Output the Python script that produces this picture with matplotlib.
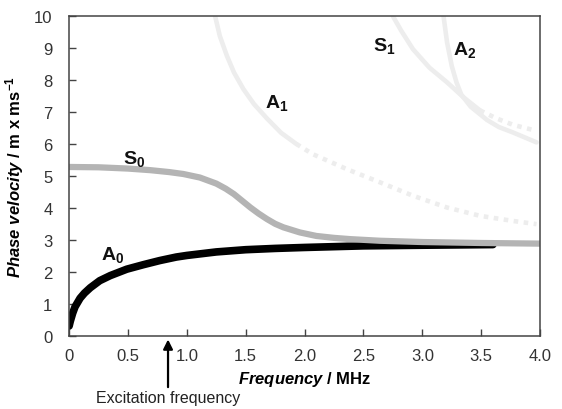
import matplotlib
matplotlib.use("Agg")

import matplotlib.pyplot as plt

# dispersion curves (frequency in MHz, phase velocity)
A0_FREQ = [0, 0.01, 0.03, 0.05, 0.093, 0.13, 0.18, 0.26, 0.35, 0.49, 0.63, 0.77,
           0.91, 1.0, 1.25, 1.5, 1.75, 2.0, 2.5, 3.0, 3.6]
A0_VEL = [0.3, 0.45, 0.7, 0.9, 1.17, 1.33, 1.5, 1.72, 1.88, 2.08, 2.22, 2.35,
          2.46, 2.51, 2.62, 2.69, 2.73, 2.76, 2.81, 2.83, 2.85]

S0_FREQ = [0, 0.25, 0.5, 0.69, 0.85, 0.97, 1.11, 1.25, 1.33, 1.40, 1.47, 1.54,
           1.61, 1.68, 1.75, 1.82, 1.96, 2.10, 2.25, 2.39, 2.64, 3.0, 3.5, 4.0]
S0_VEL = [5.28, 5.27, 5.23, 5.18, 5.12, 5.06, 4.95, 4.76, 4.6, 4.43, 4.22, 4.01,
          3.82, 3.65, 3.5, 3.39, 3.23, 3.12, 3.06, 3.02, 2.97, 2.93, 2.9, 2.88]

A1_FREQ = [1.24, 1.28, 1.34, 1.40, 1.48, 1.57, 1.68, 1.80, 1.93]
A1_VEL = [10.0, 9.38, 8.76, 8.24, 7.72, 7.25, 6.8, 6.35, 6.0]
A1_FREQ_DOT = [1.93, 2.07, 2.36, 2.64, 2.92, 3.21, 3.49, 3.77, 3.97]
A1_VEL_DOT = [6.0, 5.68, 5.21, 4.8, 4.38, 4.01, 3.75, 3.59, 3.49]

S1_FREQ = [2.75, 2.82, 2.92, 3.06, 3.21, 3.35, 3.49]
S1_VEL = [10.0, 9.55, 8.97, 8.39, 7.93, 7.46, 7.05]
S1_FREQ_DOT = [3.49, 3.63, 3.77, 3.97]
S1_VEL_DOT = [7.05, 6.8, 6.6, 6.41]

A2_FREQ = [3.18, 3.21, 3.25, 3.29, 3.33, 3.41, 3.55, 3.65, 3.77, 3.97]
A2_VEL = [10.0, 9.18, 8.44, 7.93, 7.55, 7.17, 6.75, 6.53, 6.36, 6.05]

MODE_LABELS = [r"$\mathrm{A}_{0}$", r"$\mathrm{S}_{0}$", r"$\mathrm{A}_{1}$",
               r"$\mathrm{S}_{1}$", r"$\mathrm{A}_{2}$"]
LABEL_FREQ = [0.37, 0.55, 1.76, 2.68, 3.36]
LABEL_VEL = [2.55, 5.57, 7.3, 9.1, 8.97]

EXCITATION_FREQ = 0.84

X_TICKS = [0, 0.5, 1.0, 1.5, 2.0, 2.5, 3.0, 3.5, 4.0]
X_TICK_LABELS = ["0", "0.5", "1.0", "1.5", "2.0", "2.5", "3.0", "3.5", "4.0"]
Y_TICKS = list(range(0, 11))

plt.rcParams["font.family"] = ["Liberation Sans", "DejaVu Sans"]
plt.rcParams["mathtext.fontset"] = "custom"
plt.rcParams["mathtext.rm"] = "Liberation Sans:bold"
plt.rcParams["mathtext.it"] = "Liberation Sans:bold:italic"
plt.rcParams["mathtext.bf"] = "Liberation Sans:bold"

LIGHT = "#ededed"
MID = "#b4b4b4"

fig = plt.figure(figsize=(5.62, 4.10), dpi=100)
ax = fig.add_axes([0.123, 0.179, 0.838, 0.779])

ax.plot(A1_FREQ, A1_VEL, color=LIGHT, lw=3.3, solid_capstyle="round",
        solid_joinstyle="round")
ax.plot(A1_FREQ_DOT, A1_VEL_DOT, color=LIGHT, lw=3.3, linestyle=(0, (1, 1.2)))
ax.plot(S1_FREQ, S1_VEL, color=LIGHT, lw=3.3, solid_capstyle="round",
        solid_joinstyle="round")
ax.plot(S1_FREQ_DOT, S1_VEL_DOT, color=LIGHT, lw=3.3, linestyle=(0, (1, 1.2)))
ax.plot(A2_FREQ, A2_VEL, color=LIGHT, lw=3.3, solid_capstyle="round",
        solid_joinstyle="round")
ax.plot(A0_FREQ, A0_VEL, color="black", lw=5.5, solid_capstyle="round",
        solid_joinstyle="round")
ax.plot(S0_FREQ, S0_VEL, color=MID, lw=4.5, solid_capstyle="round",
        solid_joinstyle="round")

for lab, fx, vy in zip(MODE_LABELS, LABEL_FREQ, LABEL_VEL):
    ax.text(fx, vy, lab, fontsize=14, ha="center", va="center", color="#111111")

ax.set_xlim(0, 4.0)
ax.set_ylim(0, 10)
ax.set_xticks(X_TICKS)
ax.set_xticklabels(X_TICK_LABELS)
ax.set_yticks(Y_TICKS)
ax.tick_params(direction="in", length=5, width=1, colors="#444444",
               labelcolor="#333333", labelsize=12)
ax.tick_params(axis="x", pad=9)
ax.tick_params(axis="y", pad=12)
for sp in ax.spines.values():
    sp.set_color("#444444")
    sp.set_linewidth(1.1)

ax.set_xlabel(r"$\mathit{Frequency}$ / MHz", fontsize=12, fontweight="bold", labelpad=4)
ax.set_ylabel(r"$\mathit{Phase\ velocity}$ / m x ms$^{-1}$", fontsize=12,
              fontweight="bold", labelpad=6)

ax.annotate("Excitation frequency", xy=(EXCITATION_FREQ, -0.012),
            xycoords=("data", "axes fraction"),
            xytext=(EXCITATION_FREQ, -0.17), textcoords=("data", "axes fraction"),
            ha="center", va="top", fontsize=11.5, color="#222222",
            arrowprops=dict(arrowstyle="-|>", color="black", lw=1.6,
                            mutation_scale=14, shrinkA=0, shrinkB=0))

fig.savefig("out.png", dpi=100)
